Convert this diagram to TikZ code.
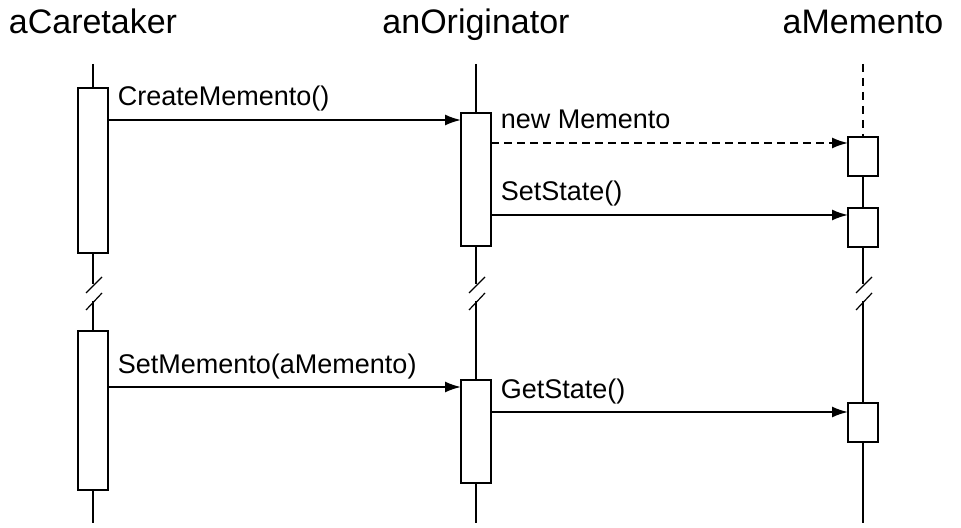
\documentclass[tikz,border=0pt]{standalone}
\usepackage{fontspec}
\setmainfont{Liberation Sans}
\usetikzlibrary{arrows.meta}

\begin{document}
\begin{tikzpicture}[x=0.5pt,y=-0.5pt,line width=0.9pt,
    head/.style={anchor=base,font=\fontsize{17}{20}\selectfont},
    act/.style={draw,fill=white,minimum width=15pt,inner sep=0pt,outer sep=0pt},
    call/.style={-{Latex[length=8pt,width=5.5pt]}},
    msg/.style={anchor=base west,xshift=4.5pt,yshift=7pt,inner sep=0pt,
                font=\fontsize{13.5}{16}\selectfont},
    brk/.style={line width=0.6pt}]

  \useasboundingbox (0,0) rectangle (961,528);

  % objects
  \node[head] (care) at (93,34)  {aCaretaker};
  \node[head] (orig) at (476,34) {anOriginator};
  \node[head] (memo) at (863,34) {aMemento};

  % lifeline ends and breaks
  \coordinate (c-top) at (93,64);  \coordinate (c-b1) at (93,284);
  \coordinate (c-b2) at (93,301);  \coordinate (c-bot) at (93,523);
  \coordinate (o-top) at (476,64); \coordinate (o-b1) at (476,284);
  \coordinate (o-b2) at (476,301); \coordinate (o-bot) at (476,523);
  \coordinate (m-top) at (863,64); \coordinate (m-b1) at (863,284);
  \coordinate (m-b2) at (863,301); \coordinate (m-bot) at (863,523);

  % activations
  \node[act,minimum height=82.5pt] (c1) at (93,170.5)  {};
  \node[act,minimum height=79.5pt] (c2) at (93,410.5)  {};
  \node[act,minimum height=66.5pt] (o1) at (476,179.5) {};
  \node[act,minimum height=51.5pt] (o2) at (476,431.5) {};
  \node[act,minimum height=19.5pt] (m1) at (863,156.5) {};
  \node[act,minimum height=19.5pt] (m2) at (863,227.5) {};
  \node[act,minimum height=19.5pt] (m3) at (863,422.5) {};

  % lifelines
  \draw (c-top) -- (c1.north)  (c1.south) -- (c-b1)
        (c-b2) -- (c2.north)   (c2.south) -- (c-bot);
  \draw (o-top) -- (o1.north)  (o1.south) -- (o-b1)
        (o-b2) -- (o2.north)   (o2.south) -- (o-bot);
  \draw[dash pattern=on 4pt off 3pt] (m-top) -- (m1.north);
  \draw (m1.south) -- (m2.north)  (m2.south) -- (m-b1)
        (m-b2) -- (m3.north)   (m3.south) -- (m-bot);
  \foreach \l in {c,o,m} {
    \draw[brk] ([shift={(-7,9)}]\l-b1) -- ([shift={(9,-7)}]\l-b1);
    \draw[brk] ([shift={(-7,9)}]\l-b2) -- ([shift={(9,-8)}]\l-b2);
  }

  % messages
  \coordinate (in1) at ([yshift=-3.5pt]o1.north west);
  \coordinate (in2) at ([yshift=-3pt]m1.north west);
  \coordinate (in3) at ([yshift=-3.5pt]m2.north west);
  \coordinate (in4) at ([yshift=-3.5pt]o2.north west);
  \coordinate (in5) at ([yshift=-4.5pt]m3.north west);

  \draw[call] (c1.east |- in1) -- node[msg,at start] {CreateMemento()} (in1);
  \draw[call,dash pattern=on 4pt off 2.5pt] (o1.east |- in2)
        -- node[msg,at start] {new Memento} (in2);
  \draw[call] (o1.east |- in3) -- node[msg,at start] {SetState()} (in3);
  \draw[call] (c2.east |- in4) -- node[msg,at start] {SetMemento(aMemento)} (in4);
  \draw[call] (o2.east |- in5) -- node[msg,at start] {GetState()} (in5);
\end{tikzpicture}
\end{document}
